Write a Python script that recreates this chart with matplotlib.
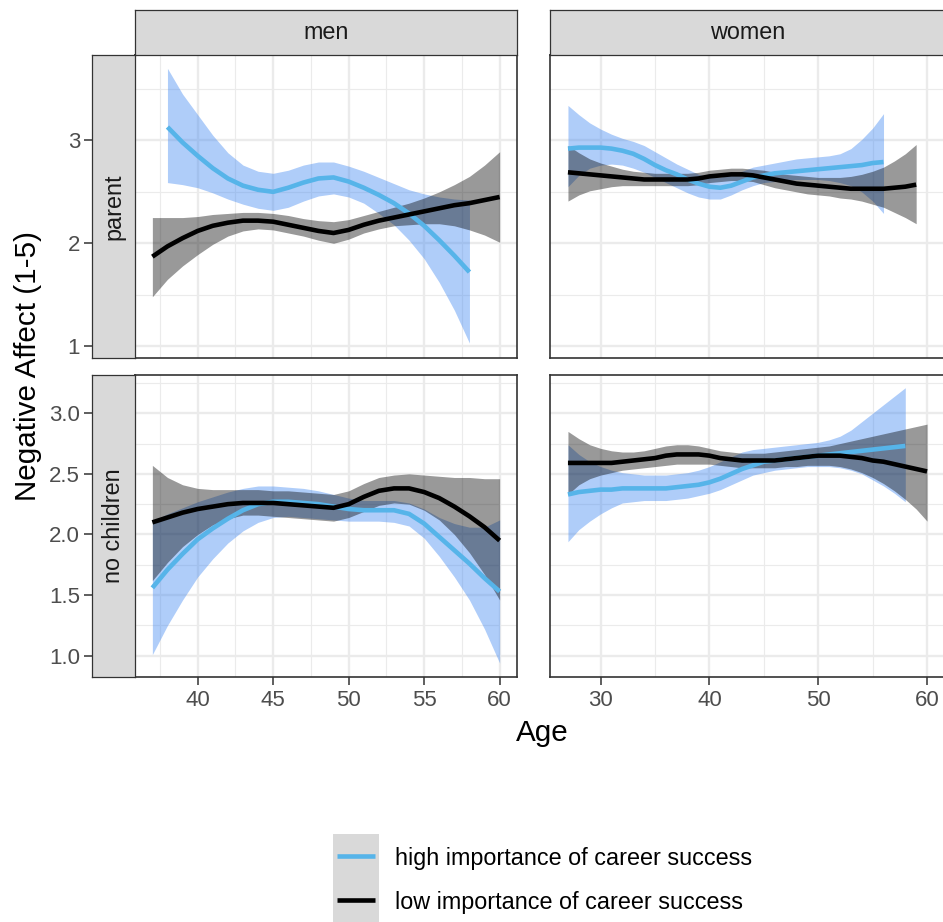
import matplotlib

matplotlib.use("Agg")

import matplotlib.pyplot as plt
from matplotlib.patches import Rectangle

plt.rcParams["font.family"] = ["Liberation Sans", "DejaVu Sans"]

W, H = 943, 922

HIGH_LINE = "#56B4E9"
HIGH_FILL = "#3782F2"
LOW_LINE = "#000000"
LOW_FILL = "#000000"
STRIP_FILL = "#D9D9D9"
BORDER = "#333333"
GRID = "#EBEBEB"
TICK_TEXT = "#4D4D4D"

COLS = ["men", "women"]
ROWS = ["parent", "no children"]
LEGEND_LABELS = ["high importance of career success", "low importance of career success"]

# men / parent
MP_HIGH_AGE = list(range(38, 59))
MP_HIGH_FIT = [3.13, 2.98, 2.85, 2.73, 2.63, 2.56, 2.52, 2.50, 2.54, 2.59, 2.63,
               2.64, 2.60, 2.54, 2.47, 2.39, 2.29, 2.17, 2.03, 1.88, 1.72]
MP_HIGH_UP = [3.70, 3.45, 3.25, 3.05, 2.88, 2.76, 2.70, 2.68, 2.71, 2.76, 2.79,
              2.79, 2.75, 2.70, 2.64, 2.58, 2.52, 2.48, 2.45, 2.43, 2.42]
MP_HIGH_LO = [2.59, 2.57, 2.54, 2.49, 2.43, 2.38, 2.34, 2.32, 2.35, 2.41, 2.46,
              2.48, 2.45, 2.39, 2.29, 2.18, 2.03, 1.85, 1.62, 1.35, 1.03]
MP_LOW_AGE = list(range(37, 61))
MP_LOW_FIT = [1.87, 1.97, 2.05, 2.12, 2.17, 2.20, 2.22, 2.22, 2.21, 2.18, 2.15, 2.12,
              2.10, 2.13, 2.18, 2.22, 2.25, 2.28, 2.31, 2.34, 2.37, 2.39, 2.42, 2.45]
MP_LOW_UP = [2.25, 2.25, 2.25, 2.26, 2.28, 2.29, 2.30, 2.30, 2.29, 2.27, 2.24, 2.22,
             2.21, 2.23, 2.27, 2.31, 2.35, 2.39, 2.44, 2.50, 2.57, 2.65, 2.76, 2.89]
MP_LOW_LO = [1.48, 1.65, 1.78, 1.89, 1.99, 2.07, 2.12, 2.14, 2.13, 2.10, 2.07, 2.03,
             2.00, 2.04, 2.10, 2.14, 2.17, 2.18, 2.19, 2.19, 2.17, 2.13, 2.08, 2.01]

# women / parent
WP_HIGH_AGE = list(range(27, 57))
WP_HIGH_FIT = [2.92, 2.93, 2.93, 2.93, 2.92, 2.90, 2.87, 2.82, 2.76, 2.71, 2.67, 2.62,
               2.58, 2.55, 2.54, 2.56, 2.60, 2.64, 2.66, 2.68, 2.69, 2.70, 2.71, 2.72,
               2.73, 2.74, 2.75, 2.76, 2.78, 2.79]
WP_HIGH_UP = [3.34, 3.25, 3.17, 3.11, 3.06, 3.02, 2.99, 2.95, 2.89, 2.83, 2.77, 2.72,
              2.67, 2.64, 2.64, 2.67, 2.70, 2.74, 2.76, 2.78, 2.80, 2.82, 2.83, 2.84,
              2.85, 2.87, 2.92, 3.01, 3.12, 3.26]
WP_HIGH_LO = [2.55, 2.66, 2.73, 2.76, 2.77, 2.76, 2.73, 2.69, 2.64, 2.59, 2.54, 2.49,
              2.45, 2.43, 2.43, 2.47, 2.52, 2.56, 2.59, 2.60, 2.61, 2.62, 2.62, 2.62,
              2.61, 2.59, 2.56, 2.50, 2.41, 2.29]
WP_LOW_AGE = list(range(27, 60))
WP_LOW_FIT = [2.69, 2.68, 2.67, 2.66, 2.65, 2.64, 2.63, 2.62, 2.62, 2.62, 2.62, 2.62,
              2.63, 2.65, 2.66, 2.67, 2.67, 2.66, 2.64, 2.62, 2.60, 2.58, 2.57, 2.56,
              2.55, 2.54, 2.53, 2.53, 2.53, 2.53, 2.54, 2.55, 2.57]
WP_LOW_UP = [2.95, 2.88, 2.82, 2.78, 2.75, 2.72, 2.70, 2.69, 2.68, 2.68, 2.68, 2.68,
             2.69, 2.71, 2.72, 2.73, 2.73, 2.72, 2.71, 2.69, 2.67, 2.66, 2.65, 2.64,
             2.64, 2.64, 2.65, 2.67, 2.70, 2.74, 2.80, 2.87, 2.96]
WP_LOW_LO = [2.41, 2.47, 2.51, 2.53, 2.55, 2.56, 2.56, 2.56, 2.56, 2.56, 2.56, 2.56,
             2.57, 2.59, 2.60, 2.61, 2.61, 2.60, 2.57, 2.54, 2.52, 2.50, 2.48, 2.47,
             2.46, 2.44, 2.43, 2.41, 2.38, 2.35, 2.30, 2.25, 2.19]

# men / no children
MN_HIGH_AGE = list(range(37, 61))
MN_HIGH_FIT = [1.56, 1.71, 1.84, 1.96, 2.05, 2.13, 2.20, 2.25, 2.27, 2.27, 2.26, 2.25,
               2.23, 2.21, 2.20, 2.20, 2.20, 2.17, 2.09, 1.98, 1.87, 1.76, 1.64, 1.53]
MN_HIGH_UP = [2.11, 2.17, 2.22, 2.27, 2.31, 2.35, 2.38, 2.40, 2.40, 2.39, 2.38, 2.36,
              2.33, 2.30, 2.28, 2.28, 2.28, 2.26, 2.21, 2.14, 2.09, 2.06, 2.06, 2.12]
MN_HIGH_LO = [1.01, 1.25, 1.46, 1.65, 1.80, 1.93, 2.03, 2.10, 2.14, 2.15, 2.14, 2.13,
              2.12, 2.11, 2.11, 2.11, 2.10, 2.07, 1.97, 1.82, 1.65, 1.46, 1.22, 0.94]
MN_LOW_AGE = list(range(37, 61))
MN_LOW_FIT = [2.10, 2.14, 2.18, 2.21, 2.23, 2.25, 2.26, 2.26, 2.26, 2.25, 2.24, 2.23,
              2.22, 2.25, 2.31, 2.36, 2.38, 2.38, 2.35, 2.30, 2.23, 2.15, 2.06, 1.95]
MN_LOW_UP = [2.57, 2.47, 2.41, 2.38, 2.37, 2.37, 2.37, 2.37, 2.36, 2.36, 2.35, 2.34,
             2.33, 2.36, 2.42, 2.47, 2.49, 2.50, 2.49, 2.48, 2.47, 2.47, 2.46, 2.46]
MN_LOW_LO = [1.62, 1.77, 1.90, 2.00, 2.08, 2.13, 2.16, 2.16, 2.15, 2.14, 2.13, 2.12,
             2.11, 2.14, 2.19, 2.24, 2.26, 2.25, 2.20, 2.12, 2.00, 1.85, 1.67, 1.46]

# women / no children
WN_HIGH_AGE = list(range(27, 59))
WN_HIGH_FIT = [2.33, 2.35, 2.36, 2.37, 2.37, 2.38, 2.38, 2.38, 2.38, 2.38, 2.39, 2.40,
               2.41, 2.43, 2.46, 2.50, 2.54, 2.57, 2.60, 2.61, 2.62, 2.63, 2.64, 2.65,
               2.66, 2.67, 2.68, 2.69, 2.70, 2.71, 2.72, 2.73]
WN_HIGH_UP = [2.74, 2.66, 2.60, 2.56, 2.53, 2.51, 2.50, 2.49, 2.49, 2.49, 2.50, 2.51,
              2.53, 2.56, 2.60, 2.64, 2.68, 2.70, 2.71, 2.72, 2.73, 2.74, 2.75, 2.76,
              2.78, 2.81, 2.86, 2.93, 3.00, 3.07, 3.14, 3.21]
WN_HIGH_LO = [1.94, 2.04, 2.11, 2.17, 2.22, 2.26, 2.27, 2.28, 2.28, 2.28, 2.29, 2.30,
              2.32, 2.34, 2.37, 2.41, 2.45, 2.49, 2.51, 2.53, 2.54, 2.55, 2.56, 2.56,
              2.56, 2.55, 2.53, 2.50, 2.45, 2.40, 2.34, 2.27]
WN_LOW_AGE = list(range(27, 61))
WN_LOW_FIT = [2.59, 2.59, 2.59, 2.59, 2.59, 2.60, 2.61, 2.62, 2.63, 2.65, 2.66, 2.66,
              2.66, 2.65, 2.63, 2.62, 2.61, 2.61, 2.61, 2.61, 2.62, 2.63, 2.64, 2.65,
              2.65, 2.65, 2.64, 2.63, 2.61, 2.60, 2.58, 2.56, 2.54, 2.52]
WN_LOW_UP = [2.85, 2.79, 2.74, 2.71, 2.69, 2.68, 2.68, 2.69, 2.71, 2.73, 2.74, 2.74,
             2.73, 2.71, 2.69, 2.68, 2.67, 2.67, 2.67, 2.68, 2.69, 2.70, 2.71, 2.72,
             2.73, 2.75, 2.77, 2.79, 2.81, 2.83, 2.85, 2.87, 2.89, 2.91]
WN_LOW_LO = [2.33, 2.41, 2.46, 2.49, 2.51, 2.53, 2.54, 2.55, 2.56, 2.57, 2.58, 2.58,
             2.58, 2.58, 2.57, 2.56, 2.55, 2.55, 2.55, 2.55, 2.56, 2.56, 2.57, 2.57,
             2.57, 2.56, 2.54, 2.51, 2.47, 2.42, 2.36, 2.29, 2.21, 2.11]

PANEL_DATA = {
    (0, 0): [(MP_HIGH_AGE, MP_HIGH_FIT, MP_HIGH_LO, MP_HIGH_UP),
             (MP_LOW_AGE, MP_LOW_FIT, MP_LOW_LO, MP_LOW_UP)],
    (0, 1): [(WP_HIGH_AGE, WP_HIGH_FIT, WP_HIGH_LO, WP_HIGH_UP),
             (WP_LOW_AGE, WP_LOW_FIT, WP_LOW_LO, WP_LOW_UP)],
    (1, 0): [(MN_HIGH_AGE, MN_HIGH_FIT, MN_HIGH_LO, MN_HIGH_UP),
             (MN_LOW_AGE, MN_LOW_FIT, MN_LOW_LO, MN_LOW_UP)],
    (1, 1): [(WN_HIGH_AGE, WN_HIGH_FIT, WN_HIGH_LO, WN_HIGH_UP),
             (WN_LOW_AGE, WN_LOW_FIT, WN_LOW_LO, WN_LOW_UP)],
}

# scales per row / column (facet_grid free scales)
ROW_YLIM = [(0.885, 3.83), (0.825, 3.315)]
ROW_YMAJOR = [[1, 2, 3], [1.0, 1.5, 2.0, 2.5, 3.0]]
ROW_YLABELS = [["1", "2", "3"], ["1.0", "1.5", "2.0", "2.5", "3.0"]]
ROW_YMINOR = [[1.5, 2.5, 3.5], [1.25, 1.75, 2.25, 2.75, 3.25]]
COL_XLIM = [(35.85, 61.15), (25.35, 61.65)]
COL_XMAJOR = [[40, 45, 50, 55, 60], [30, 40, 50, 60]]
COL_XMINOR = [[37.5, 42.5, 47.5, 52.5, 57.5], [35, 45, 55]]

# layout in pixels
COL_X = [(135, 517), (550, 945)]
ROW_Y = [(55, 358), (375, 677)]
TOP_STRIP_Y = (10, 55)
LEFT_STRIP_X = (92, 135)


def px_rect(x0, y0, x1, y1):
    return [x0 / W, 1 - y1 / H, (x1 - x0) / W, (y1 - y0) / H]


def style_box(ax, lw=1.2):
    for side in ax.spines.values():
        side.set_color(BORDER)
        side.set_linewidth(lw)


fig = plt.figure(figsize=(W / 100, H / 100), dpi=100)

for r in range(2):
    for c in range(2):
        x0, x1 = COL_X[c]
        y0, y1 = ROW_Y[r]
        ax = fig.add_axes(px_rect(x0, y0, x1, y1))
        ax.set_xlim(*COL_XLIM[c])
        ax.set_ylim(*ROW_YLIM[r])
        ax.set_xticks(COL_XMAJOR[c])
        ax.set_xticks(COL_XMINOR[c], minor=True)
        ax.set_yticks(ROW_YMAJOR[r])
        ax.set_yticks(ROW_YMINOR[r], minor=True)
        ax.grid(which="major", color=GRID, linewidth=1.7)
        ax.grid(which="minor", color=GRID, linewidth=0.85)
        ax.set_axisbelow(True)
        ax.tick_params(which="both", left=False, labelleft=False)
        ax.tick_params(which="minor", bottom=False)
        if r == 1:
            ax.tick_params(axis="x", which="major", length=5.5, width=1.1,
                           color=BORDER, labelsize=16, labelcolor=TICK_TEXT, pad=4)
        else:
            ax.tick_params(axis="x", which="major", bottom=False, labelbottom=False)
        style_box(ax)

        for i, (age, fit, lo, up) in enumerate(PANEL_DATA[(r, c)]):
            line_c = HIGH_LINE if i == 0 else LOW_LINE
            fill_c = HIGH_FILL if i == 0 else LOW_FILL
            ax.fill_between(age, lo, up, color=fill_c, alpha=0.4, linewidth=0)
            ax.plot(age, fit, color=line_c, linewidth=3.3, solid_capstyle="butt",
                    solid_joinstyle="round")

# column strips
for c, label in enumerate(COLS):
    x0, x1 = COL_X[c]
    sax = fig.add_axes(px_rect(x0, TOP_STRIP_Y[0], x1, TOP_STRIP_Y[1]))
    sax.set_facecolor(STRIP_FILL)
    sax.set_xticks([])
    sax.set_yticks([])
    style_box(sax, lw=0.9)
    sax.text(0.5, 0.5, label, transform=sax.transAxes, ha="center", va="center",
             fontsize=16.8, color="#1A1A1A")

# row strips carry the y axis (strip placement inside)
for r, label in enumerate(ROWS):
    y0, y1 = ROW_Y[r]
    sax = fig.add_axes(px_rect(LEFT_STRIP_X[0], y0, LEFT_STRIP_X[1], y1))
    sax.set_facecolor(STRIP_FILL)
    sax.set_xticks([])
    sax.set_ylim(*ROW_YLIM[r])
    sax.set_yticks(ROW_YMAJOR[r])
    sax.set_yticklabels(ROW_YLABELS[r])
    sax.tick_params(axis="y", length=5.5, width=1.1, color=BORDER,
                    labelsize=16, labelcolor=TICK_TEXT, pad=3)
    style_box(sax, lw=0.9)
    sax.text(0.5, 0.5, label, transform=sax.transAxes, ha="center", va="center",
             rotation=90, fontsize=16.8, color="#1A1A1A")

fig.text(28 / W, 1 - 366 / H, "Negative Affect (1-5)", rotation=90,
         ha="center", va="center", fontsize=21.3)
fig.text(542 / W, 1 - 733 / H, "Age", ha="center", va="center", fontsize=21.3)

# legend
lax = fig.add_axes(px_rect(333, 834, 379, 922))
lax.set_xlim(0, 1)
lax.set_ylim(0, 2)
lax.axis("off")
lax.add_patch(Rectangle((0, 0), 1, 2, color=STRIP_FILL, zorder=0))
for i, (label, color) in enumerate(zip(LEGEND_LABELS, [HIGH_LINE, LOW_LINE])):
    yk = 1.5 - i
    lax.plot([0.09, 0.91], [yk, yk], color=color, linewidth=3.3, solid_capstyle="butt")
    fig.text(395 / W, 1 - (858 + 44 * i) / H, label, ha="left", va="center",
             fontsize=16.8, color="#000000")

fig.savefig("out.png", dpi=100)
